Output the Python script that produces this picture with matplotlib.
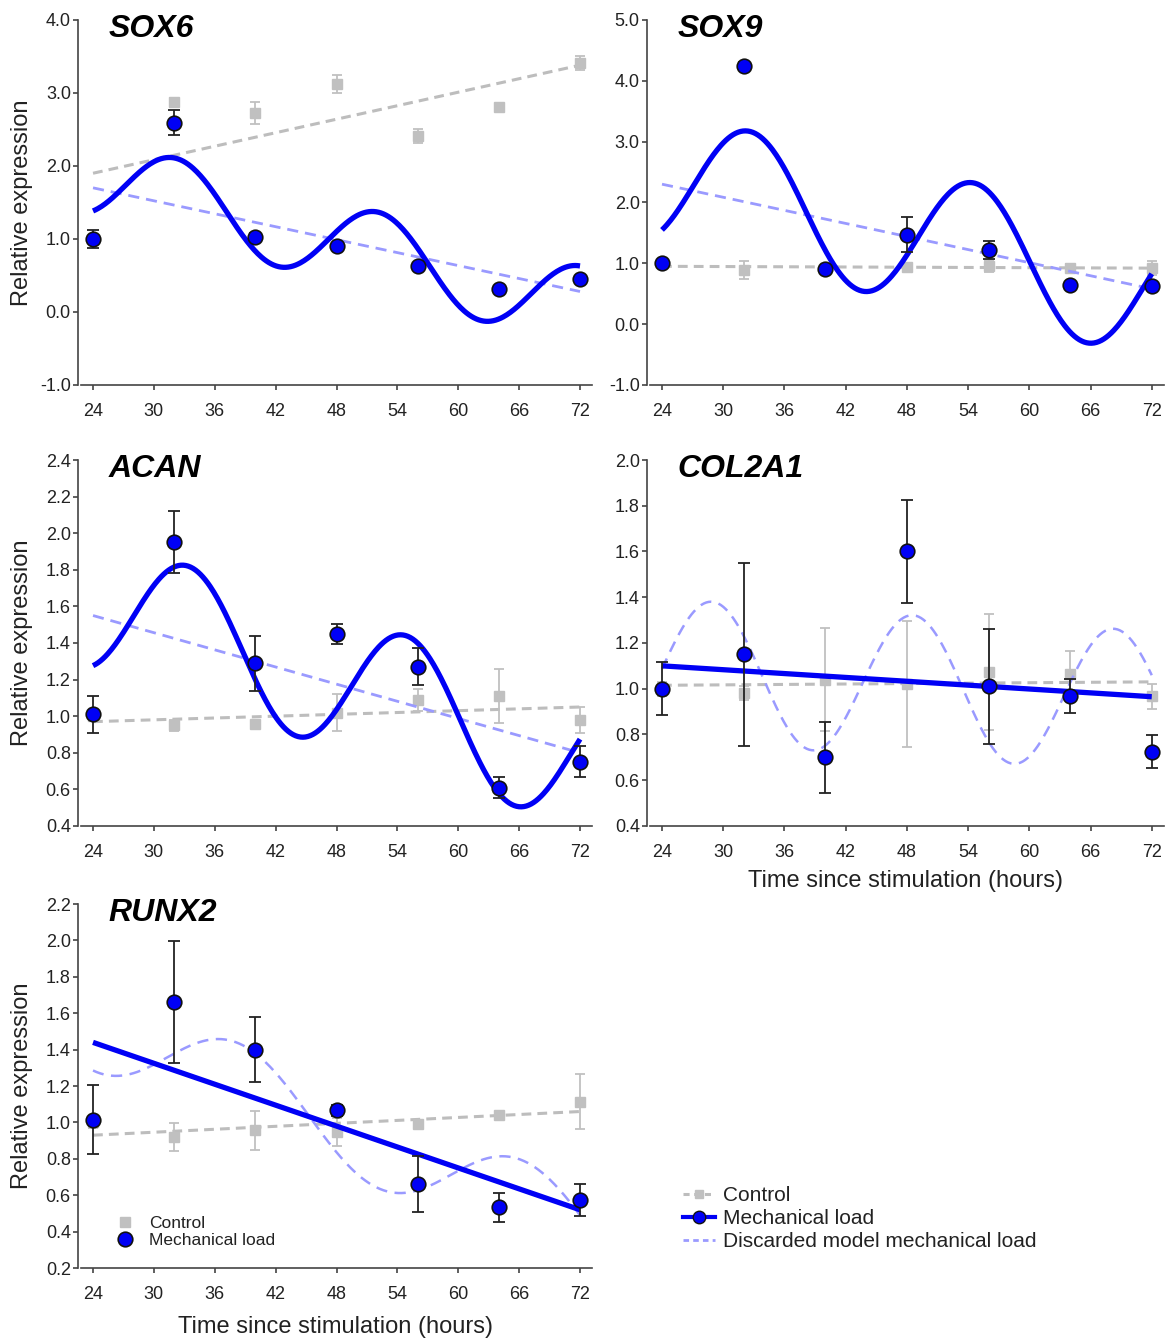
import numpy as np
import matplotlib
matplotlib.use("Agg")
import matplotlib.pyplot as plt
from matplotlib.lines import Line2D

plt.rcParams['font.family'] = ['Liberation Sans', 'DejaVu Sans']

hours = [24, 32, 40, 48, 56, 64, 72]
xticks = [24, 30, 36, 42, 48, 54, 60, 66, 72]

# cosinor fits: [mesor at 24 h, trend slope per h, amplitude, period (h), acrophase (h)]
# linear fits / control trends: [value at 24 h, value at 72 h]

# SOX6
sox6_load = [1.00, 2.59, 1.03, 0.90, 0.63, 0.31, 0.45]
sox6_load_err = [0.12, 0.17, 0.05, 0.03, 0.04, 0.02, 0.03]
sox6_ctrl = [1.00, 2.88, 2.73, 3.12, 2.41, 2.81, 3.41]
sox6_ctrl_err = [0.03, 0.05, 0.15, 0.12, 0.10, 0.03, 0.10]
sox6_ctrl_trend = [1.90, 3.38]
sox6_linear = [1.70, 0.28]
sox6_cosinor = [1.852, -0.037, 0.555, 20.0, 32.2]

# SOX9
sox9_load = [1.00, 4.24, 0.91, 1.47, 1.22, 0.64, 0.62]
sox9_load_err = [0.03, 0.07, 0.03, 0.29, 0.15, 0.03, 0.05]
sox9_ctrl = [1.00, 0.89, 0.93, 0.94, 0.96, 0.93, 0.92]
sox9_ctrl_err = [0.03, 0.15, 0.03, 0.04, 0.10, 0.06, 0.12]
sox9_ctrl_trend = [0.95, 0.92]
sox9_linear = [2.30, 0.58]
sox9_cosinor = [2.40, -0.0386, 1.10, 22.0, 32.6]

# ACAN
acan_load = [1.01, 1.95, 1.29, 1.45, 1.27, 0.61, 0.75]
acan_load_err = [0.10, 0.17, 0.15, 0.055, 0.10, 0.055, 0.085]
acan_ctrl = [1.00, 0.95, 0.956, 1.02, 1.09, 1.11, 0.98]
acan_ctrl_err = [0.02, 0.03, 0.01, 0.10, 0.06, 0.15, 0.07]
acan_ctrl_trend = [0.97, 1.05]
acan_linear = [1.55, 0.80]
acan_cosinor = [1.616, -0.0177, 0.37, 21.5, 33.36]

# COL2A1
col2a1_load = [1.00, 1.15, 0.70, 1.60, 1.01, 0.967, 0.725]
col2a1_load_err = [0.115, 0.40, 0.155, 0.225, 0.25, 0.075, 0.073]
col2a1_ctrl = [1.00, 0.98, 1.04, 1.02, 1.073, 1.064, 0.967]
col2a1_ctrl_err = [0.03, 0.03, 0.225, 0.275, 0.255, 0.10, 0.055]
col2a1_ctrl_trend = [1.015, 1.03]
col2a1_linear = [1.10, 0.965]
col2a1_cosinor = [1.085, -0.003, 0.31, 19.7, 28.9]

# RUNX2
runx2_load = [1.014, 1.66, 1.40, 1.066, 0.663, 0.535, 0.572]
runx2_load_err = [0.19, 0.335, 0.18, 0.03, 0.155, 0.08, 0.087]
runx2_ctrl = [1.00, 0.919, 0.956, 0.947, 0.99, 1.043, 1.115]
runx2_ctrl_err = [0.03, 0.078, 0.108, 0.075, 0.02, 0.01, 0.15]
runx2_ctrl_trend = [0.93, 1.06]
runx2_linear = [1.44, 0.52]
runx2_cosinor = [1.525, -0.023, 0.24, 28.0, 38.3]

BLUE = '#0000f5'
GREY = '#c0c0c0'
GREY_LINE = '#bdbdbd'
LAVENDER = '#9a9aff'
INK = '#222222'
AXIS = '#444444'


def cosinor(p, t):
    return p[0] + p[1] * (t - 24) + p[2] * np.cos(2 * np.pi * (t - p[4]) / p[3])


def panel(ax, name, load, load_err, ctrl, ctrl_err, ctrl_trend, linear, cos_fit,
          keep, yticks):
    t = np.linspace(24, 72, 400)
    ax.plot([24, 72], ctrl_trend, color=GREY_LINE, lw=2.2, ls=(0, (3.2, 2.0)), zorder=1)
    ax.errorbar(hours, ctrl, yerr=ctrl_err, fmt='s', ms=6.5, color=GREY, ecolor=GREY,
                elinewidth=1.3, capsize=3.5, capthick=1.3, zorder=2)
    curve = cosinor(cos_fit, t)
    if keep == 'cosinor':
        ax.plot([24, 72], linear, color=LAVENDER, lw=2.0, ls=(0, (4, 2.5)), zorder=3)
        ax.plot(t, curve, color=BLUE, lw=3.8, zorder=4, solid_capstyle='butt')
    else:
        ax.plot(t, curve, color=LAVENDER, lw=1.8, ls=(0, (4.5, 3)), zorder=3)
        ax.plot([24, 72], linear, color=BLUE, lw=3.8, zorder=4, solid_capstyle='butt')
    ax.errorbar(hours, load, yerr=load_err, fmt='none', ecolor=INK, elinewidth=1.3,
                capsize=4.2, capthick=1.3, zorder=5)
    ax.plot(hours, load, 'o', ms=10.5, mfc=BLUE, mec='#111111', mew=1.2, ls='none', zorder=6)

    ax.set_xlim(22.5, 73.2)
    ax.set_ylim(yticks[0], yticks[-1])
    ax.set_xticks(xticks)
    ax.set_yticks(yticks)
    ax.set_yticklabels(['%.1f' % v for v in yticks])
    for s in ['top', 'right']:
        ax.spines[s].set_visible(False)
    for s in ['left', 'bottom']:
        ax.spines[s].set_linewidth(1.2)
        ax.spines[s].set_color(AXIS)
    ax.spines['bottom'].set_bounds(22.85, 73.2)
    ax.tick_params(direction='out', length=3.5, width=1.2, color=AXIS,
                   labelsize=13, labelcolor=INK)
    ax.tick_params(axis='x', pad=9.5)
    ax.tick_params(axis='y', pad=1.5)
    ax.text(0.06, 0.975, name, transform=ax.transAxes, fontsize=23, fontweight='bold',
            fontstyle='italic', va='center', ha='left', color='black',
            family=['Liberation Sans Narrow', 'Liberation Sans'])


fig = plt.figure(figsize=(11.67, 13.38), dpi=100)

W, H = 1167.0, 1338.0
lx, lw_ = 77.8 / W, 514.4 / W
rx, rw_ = 646.7 / W, 517.3 / W
rows = [(0.7123, 0.2728), (0.3827, 0.2735), (0.0523, 0.2720)]

ax1 = fig.add_axes([lx, rows[0][0], lw_, rows[0][1]])
ax2 = fig.add_axes([rx, rows[0][0], rw_, rows[0][1]])
ax3 = fig.add_axes([lx, rows[1][0], lw_, rows[1][1]])
ax4 = fig.add_axes([rx, rows[1][0], rw_, rows[1][1]])
ax5 = fig.add_axes([lx, rows[2][0], lw_, rows[2][1]])

panel(ax1, 'SOX6', sox6_load, sox6_load_err, sox6_ctrl, sox6_ctrl_err, sox6_ctrl_trend,
      sox6_linear, sox6_cosinor, 'cosinor', np.arange(-1.0, 4.01, 1.0))
panel(ax2, 'SOX9', sox9_load, sox9_load_err, sox9_ctrl, sox9_ctrl_err, sox9_ctrl_trend,
      sox9_linear, sox9_cosinor, 'cosinor', np.arange(-1.0, 5.01, 1.0))
panel(ax3, 'ACAN', acan_load, acan_load_err, acan_ctrl, acan_ctrl_err, acan_ctrl_trend,
      acan_linear, acan_cosinor, 'cosinor', np.round(np.arange(0.4, 2.41, 0.2), 1))
panel(ax4, 'COL2A1', col2a1_load, col2a1_load_err, col2a1_ctrl, col2a1_ctrl_err,
      col2a1_ctrl_trend, col2a1_linear, col2a1_cosinor, 'linear',
      np.round(np.arange(0.4, 2.01, 0.2), 1))
panel(ax5, 'RUNX2', runx2_load, runx2_load_err, runx2_ctrl, runx2_ctrl_err,
      runx2_ctrl_trend, runx2_linear, runx2_cosinor, 'linear',
      np.round(np.arange(0.2, 2.21, 0.2), 1))

for ax in [ax1, ax3, ax5]:
    ax.set_ylabel('Relative expression', fontsize=17, color=INK)
    ax.yaxis.set_label_coords(-0.087, 0.5)
ax4.set_xlabel('Time since stimulation (hours)', fontsize=17, color=INK)
ax4.xaxis.set_label_coords(0.5, -0.12)
ax5.set_xlabel('Time since stimulation (hours)', fontsize=17, color=INK)
ax5.xaxis.set_label_coords(0.5, -0.132)

# small legend inside RUNX2
h_ctrl = Line2D([], [], marker='s', ls='none', color=GREY, ms=6.5)
h_load = Line2D([], [], marker='o', ls='none', mfc=BLUE, mec='#111111', mew=1.2, ms=10.5)
ax5.legend([h_ctrl, h_load], ['Control', 'Mechanical load'], loc='lower left',
           bbox_to_anchor=(0.075, 0.055), frameon=False, fontsize=12.5,
           handlelength=1.0, handletextpad=0.9, labelspacing=0.1, borderpad=0,
           borderaxespad=0, labelcolor=INK)

# figure legend bottom right
g_ctrl = Line2D([], [], color=GREY_LINE, lw=2.2, ls=(0, (2, 1.5)), marker='s', ms=6,
                mfc=GREY, mec=GREY)
g_load = Line2D([], [], color=BLUE, lw=3, marker='o', mfc=BLUE, mec='#111111', ms=9)
g_disc = Line2D([], [], color=LAVENDER, lw=2, ls=(0, (2, 1.5)))
fig.legend([g_ctrl, g_load, g_disc],
           ['Control', 'Mechanical load', 'Discarded model mechanical load'],
           loc='upper left', bbox_to_anchor=(683 / W, 1 - 1186 / H), frameon=False,
           fontsize=15, handlelength=1.55, handletextpad=0.35, labelspacing=0.2,
           borderpad=0, borderaxespad=0, labelcolor=INK)

fig.savefig('out.png', dpi=100)
